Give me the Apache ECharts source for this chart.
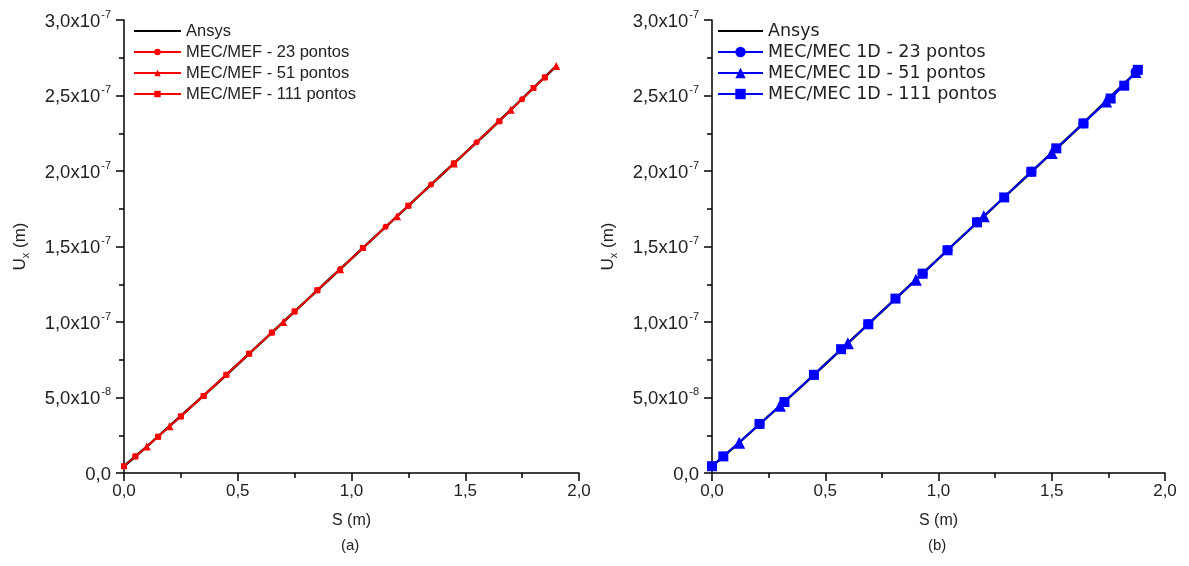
<!DOCTYPE html>
<html>
<head>
<meta charset="utf-8">
<script src="https://cdn.jsdelivr.net/npm/echarts@6/dist/echarts.min.js"></script>
<style>
html,body{margin:0;padding:0;background:#fff;}
#c{width:1189px;height:566px;}
</style>
</head>
<body>
<div id="c"></div>
<script>
// Values: S in metres, U in units of 1e-9 m
var NM = 1e-9;
var xTicks = [0, 0.5, 1.0, 1.5, 2.0];
var yTicks = [0, 5e-8, 1e-7, 1.5e-7, 2e-7, 2.5e-7, 3e-7];

var ansysS = [0, 0.1, 0.2, 0.3, 0.4, 0.5, 0.6, 0.7, 0.8, 0.9, 1.0, 1.1, 1.2, 1.3, 1.4, 1.5, 1.6, 1.7, 1.8, 1.9];
var ansysU = [4.5, 17.5, 31, 44.5, 58, 72, 86, 100, 114, 128, 142, 156, 170, 184, 198, 212, 226, 240.5, 255, 269.5];

// (a) MEC/MEF
var mef23S = [0.05, 0.15, 0.25, 0.35, 0.45, 0.55, 0.65, 0.75, 0.85, 0.95, 1.05, 1.15, 1.25, 1.35, 1.45, 1.55, 1.65, 1.75, 1.85];
var mef23U = [11, 24, 37.5, 51, 65, 79, 93, 107, 121, 135, 149, 163, 177, 191, 205, 219, 233, 247.5, 262];
var mef51S = [0.1, 0.2, 0.7, 0.95, 1.2, 1.45, 1.7, 1.9];
var mef51U = [17.5, 31, 100, 135, 170, 205, 240.5, 269.5];
var mef111S = [0, 0.05, 0.15, 0.25, 0.35, 0.45, 0.55, 0.65, 0.75, 0.85, 1.05, 1.25, 1.45, 1.65, 1.8, 1.85];
var mef111U = [4.5, 11, 24, 37.5, 51, 65, 79, 93, 107, 121, 149, 177, 205, 233, 255, 262];

// (b) MEC/MEC 1D
var mec23S = [0, 0.21, 0.45, 0.69, 0.93, 1.04, 1.17, 1.41, 1.64, 1.87];
var mec23U = [4.5, 32.5, 65, 98.5, 132, 147.5, 166, 199.5, 231.5, 265.5];
var mec51S = [0.12, 0.3, 0.6, 0.9, 1.2, 1.5, 1.74, 1.87];
var mec51U = [20, 44.5, 86, 128, 170, 212, 246, 265.5];
var mec111S = [0, 0.05, 0.21, 0.32, 0.45, 0.57, 0.69, 0.81, 0.93, 1.04, 1.17, 1.29, 1.41, 1.52, 1.64, 1.76, 1.82, 1.88];
var mec111U = [4.5, 11, 32.5, 47, 65, 82, 98.5, 115.5, 132, 147.5, 166, 182.5, 199.5, 215, 231.5, 248, 256.5, 267];

var namesA = ['Ansys', 'MEC/MEF - 23 pontos', 'MEC/MEF - 51 pontos', 'MEC/MEF - 111 pontos'];
var namesB = ['Ansys', 'MEC/MEC 1D - 23 pontos', 'MEC/MEC 1D - 51 pontos', 'MEC/MEC 1D - 111 pontos'];
var panelLabels = ['(a)', '(b)'];

function pairs(s, u) { return s.map(function (v, i) { return [v, u[i] * NM]; }); }

var FONT = '"Liberation Sans", Arial, sans-serif';
var WIDE = '"DejaVu Sans", "Liberation Sans", sans-serif';

function yFmt(v) {
  if (Math.abs(v) < 1e-15) return '{m|0,0}';
  var e = Math.floor(Math.log10(Math.abs(v)) + 1e-9);
  var m = v / Math.pow(10, e);
  m = Math.round(m * 10) / 10;
  if (m >= 10) { m = m / 10; e += 1; }
  return '{m|' + m.toFixed(1).replace('.', ',') + 'x10}{e|' + e + '}';
}
function xFmt(v) { return v.toFixed(1).replace('.', ','); }

var axisLineStyle = { color: '#000', width: 1.5 };

function makeX(idx) {
  return {
    gridIndex: idx, type: 'value', min: 0, max: 2, interval: 0.5,
    name: 'S (m)', nameLocation: 'middle', nameGap: 40,
    nameTextStyle: { fontFamily: FONT, fontSize: 16, color: '#222' },
    axisLine: { show: true, onZero: false, lineStyle: axisLineStyle },
    axisTick: { show: true, inside: false, length: 8, lineStyle: { color: '#000', width: 1.5 } },
    minorTick: { show: true, splitNumber: 2, length: 5, lineStyle: { color: '#000', width: 1.5 } },
    splitLine: { show: false },
    axisLabel: { formatter: xFmt, fontFamily: FONT, fontSize: 17, color: '#222', margin: 10 }
  };
}
function makeY(idx) {
  return {
    gridIndex: idx, type: 'value', min: 0, max: 3e-7, interval: 5e-8,
    name: '{u|U}{x|x}{u| (m)}', nameLocation: 'middle', nameGap: 93, nameRotate: 90,
    nameTextStyle: {
      fontFamily: FONT, color: '#222',
      rich: {
        u: { fontFamily: FONT, fontSize: 17, color: '#222', lineHeight: 22, verticalAlign: 'middle' },
        x: { fontFamily: FONT, fontSize: 11, color: '#222', verticalAlign: 'bottom' }
      }
    },
    axisLine: { show: true, onZero: false, lineStyle: axisLineStyle },
    axisTick: { show: true, inside: false, length: 8, lineStyle: { color: '#000', width: 1.5 } },
    minorTick: { show: true, splitNumber: 2, length: 5, lineStyle: { color: '#000', width: 1.5 } },
    splitLine: { show: false },
    axisLabel: {
      formatter: yFmt, margin: 13,
      rich: {
        m: { fontFamily: FONT, fontSize: 18.5, color: '#222', lineHeight: 22, verticalAlign: 'bottom' },
        e: { fontFamily: FONT, fontSize: 11, color: '#222', verticalAlign: 'top', padding: [0, 0, 0, 1] }
      }
    }
  };
}

function ansysSeries(idx, name) {
  return {
    name: name, type: 'line', xAxisIndex: idx, yAxisIndex: idx,
    data: pairs(ansysS, ansysU), showSymbol: false, symbol: 'none',
    lineStyle: { color: '#000', width: 2.5 }, itemStyle: { color: '#000' },
    z: 2, animation: false
  };
}
function markSeries(idx, name, s, u, sym, size, color) {
  return {
    name: name, type: 'line', xAxisIndex: idx, yAxisIndex: idx,
    data: pairs(s, u), symbol: sym, symbolSize: size, showSymbol: true,
    lineStyle: { color: color, width: 1.3 }, itemStyle: { color: color, borderWidth: 0 },
    z: 3, animation: false
  };
}

function legendData(names) {
  return names.map(function (n, i) {
    return i === 0 ? { name: n, itemStyle: { opacity: 0 } } : { name: n };
  });
}

var RED = '#ff0000', BLUE = '#0000ff';

var option = {
  backgroundColor: '#fff',
  animation: false,
  grid: [
    { left: 124, right: 610, top: 20, bottom: 93, containLabel: false },
    { left: 712, right: 24, top: 20, bottom: 93, containLabel: false }
  ],
  xAxis: [makeX(0), makeX(1)],
  yAxis: [makeY(0), makeY(1)],
  legend: [
    {
      data: legendData(namesA), orient: 'vertical', left: 133, top: 22, padding: 0,
      itemWidth: 47, itemHeight: 8, itemGap: 3,
      textStyle: { fontFamily: FONT, fontSize: 16.5, color: '#222', lineHeight: 18 },
      selectedMode: false
    },
    {
      data: legendData(namesB), orient: 'vertical', left: 717, top: 22, padding: 0,
      itemWidth: 45, itemHeight: 13, itemGap: 3,
      textStyle: { fontFamily: WIDE, fontSize: 17.5, color: '#222', lineHeight: 18 },
      selectedMode: false
    }
  ],
  graphic: [
    { type: 'text', left: 341, top: 538, style: { text: panelLabels[0], font: '15px ' + FONT, fill: '#222' } },
    { type: 'text', left: 928, top: 538, style: { text: panelLabels[1], font: '15px ' + FONT, fill: '#222' } }
  ],
  series: [
    ansysSeries(0, namesA[0]),
    markSeries(0, namesA[1], mef23S, mef23U, 'circle', 6, RED),
    markSeries(0, namesA[2], mef51S, mef51U, 'triangle', 8, RED),
    markSeries(0, namesA[3], mef111S, mef111U, 'rect', 6, RED),
    ansysSeries(1, namesB[0]),
    markSeries(1, namesB[1], mec23S, mec23U, 'circle', 10, BLUE),
    markSeries(1, namesB[2], mec51S, mec51U, 'triangle', 12, BLUE),
    markSeries(1, namesB[3], mec111S, mec111U, 'rect', 10, BLUE)
  ]
};

var chart = echarts.init(document.getElementById('c'), null, { renderer: 'canvas' });
chart.setOption(option);
</script>
</body>
</html>
